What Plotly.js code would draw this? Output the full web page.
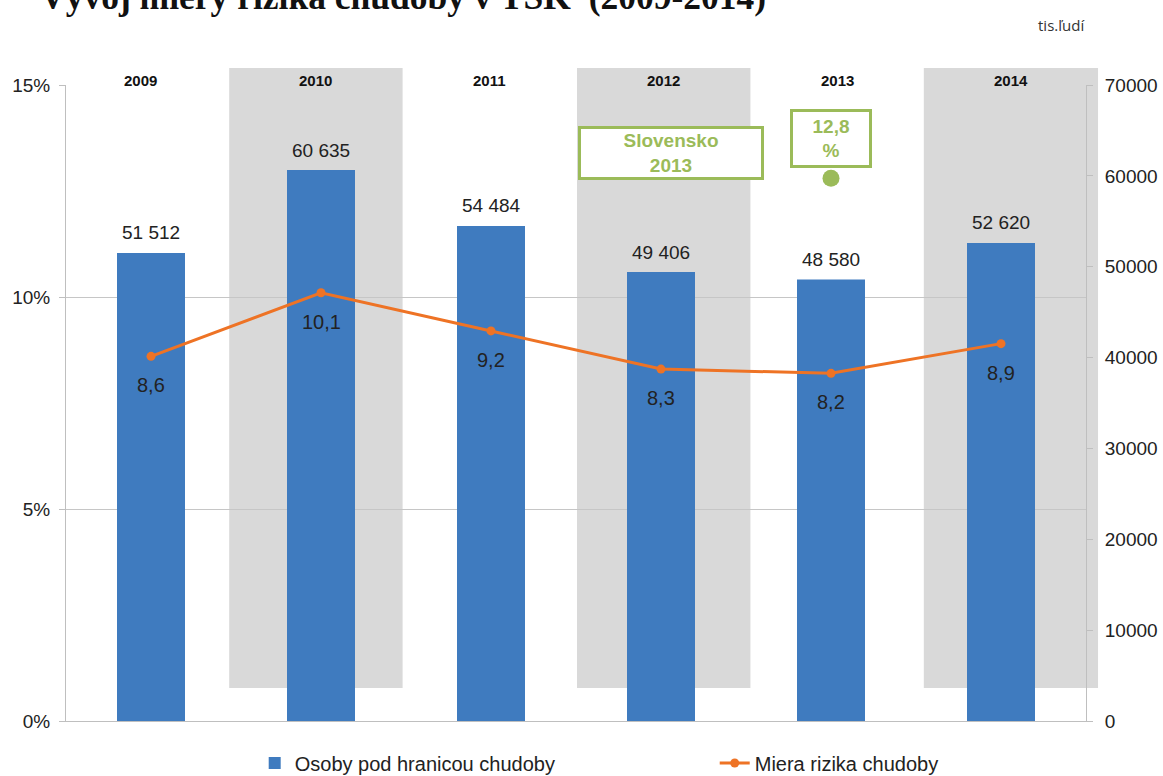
<!DOCTYPE html>
<html>
<head>
<meta charset="utf-8">
<script src="https://cdn.plot.ly/plotly-3.0.1.min.js"></script>
<style>html,body{margin:0;padding:0;background:#fff;}#chart{width:1163px;height:776px;}</style>
</head>
<body>
<div id="chart"></div>
<script>
// ---- data ----
const years = ['2009', '2010', '2011', '2012', '2013', '2014'];
const persons = [51512, 60635, 54484, 49406, 48580, 52620];   // Osoby pod hranicou chudoby
const riskRate = [8.6, 10.1, 9.2, 8.3, 8.2, 8.9];              // Miera rizika chudoby (%)
const slovakYear = ['2013'];
const slovakRate = [12.8];
const seriesNames = ['Osoby pod hranicou chudoby', 'Miera rizika chudoby'];
const titleText = 'Vývoj miery rizika chudoby v TSK  (2009-2014)';
const unitText = 'tis.ľudí';
const slovakLabel = 'Slovensko<br>2013';
const leftTicks = [0, 5, 10, 15];
const leftTickText = ['0%', '5%', '10%', '15%'];
const rightTicks = [0, 10000, 20000, 30000, 40000, 50000, 60000, 70000];

const FONT = 'Liberation Sans, Arial, sans-serif';
const GREEN = '#9BBB59';
const fmt1 = v => v.toFixed(1).replace('.', ',');
const fmtThousands = v => String(v).replace(/\B(?=(\d{3})+(?!\d))/g, ' ');

const traces = [
  {
    type: 'bar', name: seriesNames[0], x: years, y: persons, yaxis: 'y',
    marker: {color: '#3F7BBF'}, width: 0.4,
    hoverinfo: 'x+y', legend: 'legend'
  },
  {
    type: 'scatter', mode: 'lines+markers', name: seriesNames[1], x: years, y: riskRate, yaxis: 'y2',
    line: {color: '#EE7325', width: 3}, marker: {color: '#EE7325', size: 9},
    hoverinfo: 'x+y', legend: 'legend2', cliponaxis: false
  },
  {
    type: 'scatter', mode: 'markers', x: slovakYear, y: slovakRate, yaxis: 'y2', showlegend: false,
    marker: {color: GREEN, size: 17}, hoverinfo: 'y', cliponaxis: false
  }
];

const annotations = [];
// bar value labels
years.forEach((yr, i) => {
  annotations.push({
    xref: 'x', yref: 'y', x: i, y: persons[i], yshift: 20, yanchor: 'middle', showarrow: false,
    text: fmtThousands(persons[i]),
    font: {family: FONT, size: 19, color: '#222'}
  });
});
// line value labels
years.forEach((yr, i) => {
  annotations.push({
    xref: 'x', yref: 'y2', x: i, y: riskRate[i], yshift: -29, showarrow: false,
    text: fmt1(riskRate[i]),
    font: {family: FONT, size: 20, color: '#222'}
  });
});
// year labels at top
years.forEach((yr, i) => {
  annotations.push({
    xref: 'x2', yref: 'paper', x: i, y: 1, yshift: 5, yanchor: 'middle', showarrow: false,
    text: '<b>' + yr + '</b>', font: {family: FONT, size: 15, color: '#111'}
  });
});
// title (cut off at top, as in the reference)
annotations.push({
  xref: 'paper', yref: 'paper', x: -0.0275, y: 1, xanchor: 'left', yanchor: 'bottom', yshift: 66,
  showarrow: false, text: '<b>' + titleText + '</b>',
  font: {family: 'Liberation Serif, DejaVu Serif, serif', size: 35.5, color: '#111'}
});
annotations.push({
  xref: 'paper', yref: 'paper', x: 0.976, y: 1.094, xanchor: 'center', yanchor: 'middle', showarrow: false, text: unitText,
  font: {family: 'Open Sans, sans-serif', size: 15, color: '#333'}
});
// Slovakia boxes
annotations.push({
  xref: 'paper', yref: 'paper', x: 0.593, y: 0.893, xanchor: 'center', yanchor: 'middle', showarrow: false,
  text: '<b>' + slovakLabel + '</b>',
  bordercolor: GREEN, borderwidth: 3, bgcolor: '#fff', width: 180, height: 48, borderpad: 0,
  font: {family: FONT, size: 19, color: GREEN}
});
annotations.push({
  xref: 'paper', yref: 'paper', x: 0.75, y: 0.916, xanchor: 'center', yanchor: 'middle', showarrow: false,
  text: '<b>' + fmt1(slovakRate[0]) + '<br>%</b>',
  bordercolor: GREEN, borderwidth: 3, bgcolor: '#fff', width: 76, height: 53, borderpad: 0,
  font: {family: FONT, size: 19, color: GREEN}
});

const band = (x0, x1) => ({
  type: 'rect', xref: 'paper', yref: 'paper', x0: x0, x1: x1, y0: 0.0519, y1: 1.0267,
  fillcolor: '#D9D9D9', line: {width: 0}, layer: 'below'
});

const legendFont = {family: FONT, size: 20, color: '#222'};

const layout = {
  width: 1163, height: 776,
  margin: {l: 66, r: 77, t: 85, b: 55, autoexpand: false},
  paper_bgcolor: '#fff', plot_bgcolor: 'rgba(0,0,0,0)',
  separators: ', ',
  showlegend: true,
  legend: {orientation: 'h', x: 0.185, xanchor: 'left', y: -0.066, yanchor: 'middle', font: legendFont, bgcolor: 'rgba(0,0,0,0)'},
  legend2: {orientation: 'h', x: 0.636, xanchor: 'left', y: -0.066, yanchor: 'middle', font: legendFont, bgcolor: 'rgba(0,0,0,0)'},
  xaxis: {type: 'category', range: [-0.5, 5.5], showticklabels: false, ticks: '',
          showline: true, linecolor: '#bfbfbf', linewidth: 1, showgrid: false, zeroline: false},
  xaxis2: {overlaying: 'x', range: [-0.431, 5.431], visible: false},
  yaxis: {side: 'right', range: [0, 70000], tickvals: rightTicks, tickformat: 'd',
          showgrid: false, showline: true, linecolor: '#bfbfbf', ticks: 'outside', ticklen: 6,
          tickcolor: '#bfbfbf', zeroline: false, ticklabelstandoff: 8,
          tickfont: {family: FONT, size: 19, color: '#222'}},
  yaxis2: {overlaying: 'y', side: 'left', range: [0, 15], tickvals: leftTicks, ticktext: leftTickText,
           showgrid: true, gridcolor: '#c6c6c6', showline: true, linecolor: '#bfbfbf', ticks: 'outside',
           ticklen: 6, tickcolor: '#bfbfbf', zeroline: false, ticklabelstandoff: 5,
           tickfont: {family: FONT, size: 19, color: '#222'}},
  shapes: [band(0.160, 0.330), band(0.501, 0.671), band(0.841, 1.0118)],
  annotations: annotations,
  bargap: 0.6
};

Plotly.newPlot('chart', traces, layout, {displayModeBar: false, staticPlot: true});
</script>
</body>
</html>
